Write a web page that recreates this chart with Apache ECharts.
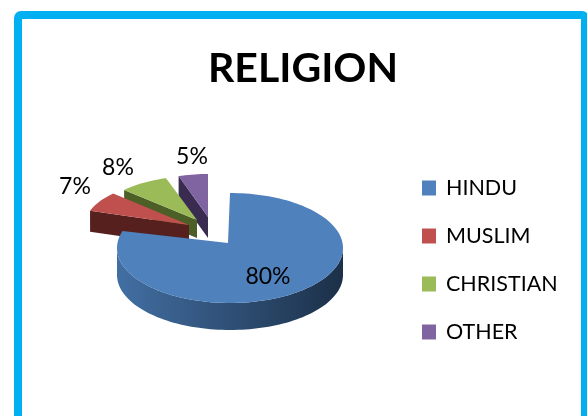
<!DOCTYPE html>
<html>
<head>
<meta charset="utf-8">
<style>html,body{margin:0;padding:0;background:#fff}#chart{width:587px;height:416px}</style>
<script src="https://cdn.jsdelivr.net/npm/echarts@6/dist/echarts.min.js"></script>
</head>
<body>
<div id="chart"></div>
<script>
const categories = ['HINDU', 'MUSLIM', 'CHRISTIAN', 'OTHER'];
const shares = [80, 7, 8, 5];
const topColors = ['#4f81bd', '#c0504d', '#9bbb59', '#8064a2'];
const wallColors = ['#1c3048', '#55201e', '#4c5f26', '#3a2c50'];
const wallLightColors = ['#426fa3', '#55201e', '#4c5f26', '#3a2c50'];

// Tilted-disc projection: per-slice pull-out from the disc centre, radii and thickness.
const disc = { x: 230, y: 248 };
const sliceLayout = [
  { dx: 0, dy: 0, rx: 113, ry: 55, depth: 27, apexX: -2, apexY: -5, labelX: 38, labelY: 29, z: 5 },
  { dx: -41, dy: -23, rx: 104, ry: 46, depth: 21, apexX: 0, apexY: 0, labelX: -155, labelY: -61, z: 4 },
  { dx: -33, dy: -28, rx: 100, ry: 44, depth: 18, apexX: 0, apexY: 0, labelX: -112, labelY: -80, z: 3 },
  { dx: -22, dy: -31, rx: 95, ry: 43, depth: 21, apexX: 0, apexY: 0, labelX: -38, labelY: -91, z: 2 }
];

const total = shares.reduce((a, b) => a + b, 0);
const starts = shares.map((_, i) => shares.slice(0, i).reduce((a, b) => a + b, 0));

function renderSlice(index) {
  return function (params, api) {
    const value = api.value(0);
    const from = api.value(1) / total * 360;
    const to = from + value / total * 360;
    const l = sliceLayout[index];
    const cx = disc.x + l.dx, cy = disc.y + l.dy;
    const apex = [cx + l.apexX, cy + l.apexY];
    const pt = a => {
      const r = a * Math.PI / 180;
      return [cx + l.rx * Math.sin(r), cy - l.ry * Math.cos(r)];
    };
    const down = p => [p[0], p[1] + l.depth];

    const arc = [];
    for (let a = from; a <= to + 0.001; a += 2) arc.push(pt(Math.min(a, to)));
    arc.push(pt(to));

    const children = [];
    const wallFill = {
      type: 'linear', x: 0, y: 0, x2: 1, y2: 0,
      colorStops: [
        { offset: 0, color: wallLightColors[index] },
        { offset: 1, color: wallColors[index] }
      ]
    };
    // The rim is visible where the disc edge faces the viewer.
    const rimFrom = Math.max(from, 90), rimTo = Math.min(to, 270);
    if (rimTo > rimFrom) {
      const rim = [];
      for (let a = rimFrom; a <= rimTo; a += 2) rim.push(pt(a));
      children.push({
        type: 'polygon',
        shape: { points: rim.concat(rim.slice().reverse().map(down)) },
        style: { fill: wallFill }
      });
    }
    // Cut face along the leading edge of a pulled-out slice.
    if (l.dx !== 0) {
      const outer = pt(from);
      children.push({
        type: 'polygon',
        shape: { points: [outer, apex, down(apex), down(outer)] },
        style: { fill: wallColors[index] }
      });
    }
    children.push({
      type: 'polygon',
      shape: { points: [apex].concat(arc) },
      style: { fill: topColors[index] }
    });
    children.push({
      type: 'text',
      style: {
        x: disc.x + l.labelX, y: disc.y + l.labelY,
        text: value + '%',
        fill: '#000', font: '23px Lato',
        align: 'center', verticalAlign: 'middle'
      }
    });
    return { type: 'group', children };
  };
}

const chart = echarts.init(document.getElementById('chart'), null, { renderer: 'canvas' });
chart.setOption({
  animation: false,
  backgroundColor: '#fff',
  title: {
    text: 'RELIGION',
    left: 298, top: 43, textAlign: 'center',
    textStyle: { fontFamily: 'Lato', fontWeight: 'bold', fontSize: 41, color: '#000' }
  },
  legend: {
    data: categories,
    orient: 'vertical',
    left: 417, top: 171,
    icon: 'rect',
    itemWidth: 14, itemHeight: 15, itemGap: 24,
    textStyle: { fontFamily: 'Lato', fontSize: 21.5, color: '#000', padding: [0, 0, 0, 5], lineHeight: 24 },
    selectedMode: false
  },
  graphic: [{
    type: 'rect', silent: true,
    shape: { x: 18, y: 15, width: 567, height: 460, r: 3 },
    style: { fill: 'none', stroke: '#00b0f0', lineWidth: 8 }
  }],
  series: categories.map((name, i) => ({
    type: 'custom',
    name,
    coordinateSystem: 'none',
    z: sliceLayout[i].z,
    itemStyle: { color: topColors[i] },
    renderItem: renderSlice(i),
    data: [[shares[i], starts[i]]]
  }))
});
</script>
</body>
</html>
